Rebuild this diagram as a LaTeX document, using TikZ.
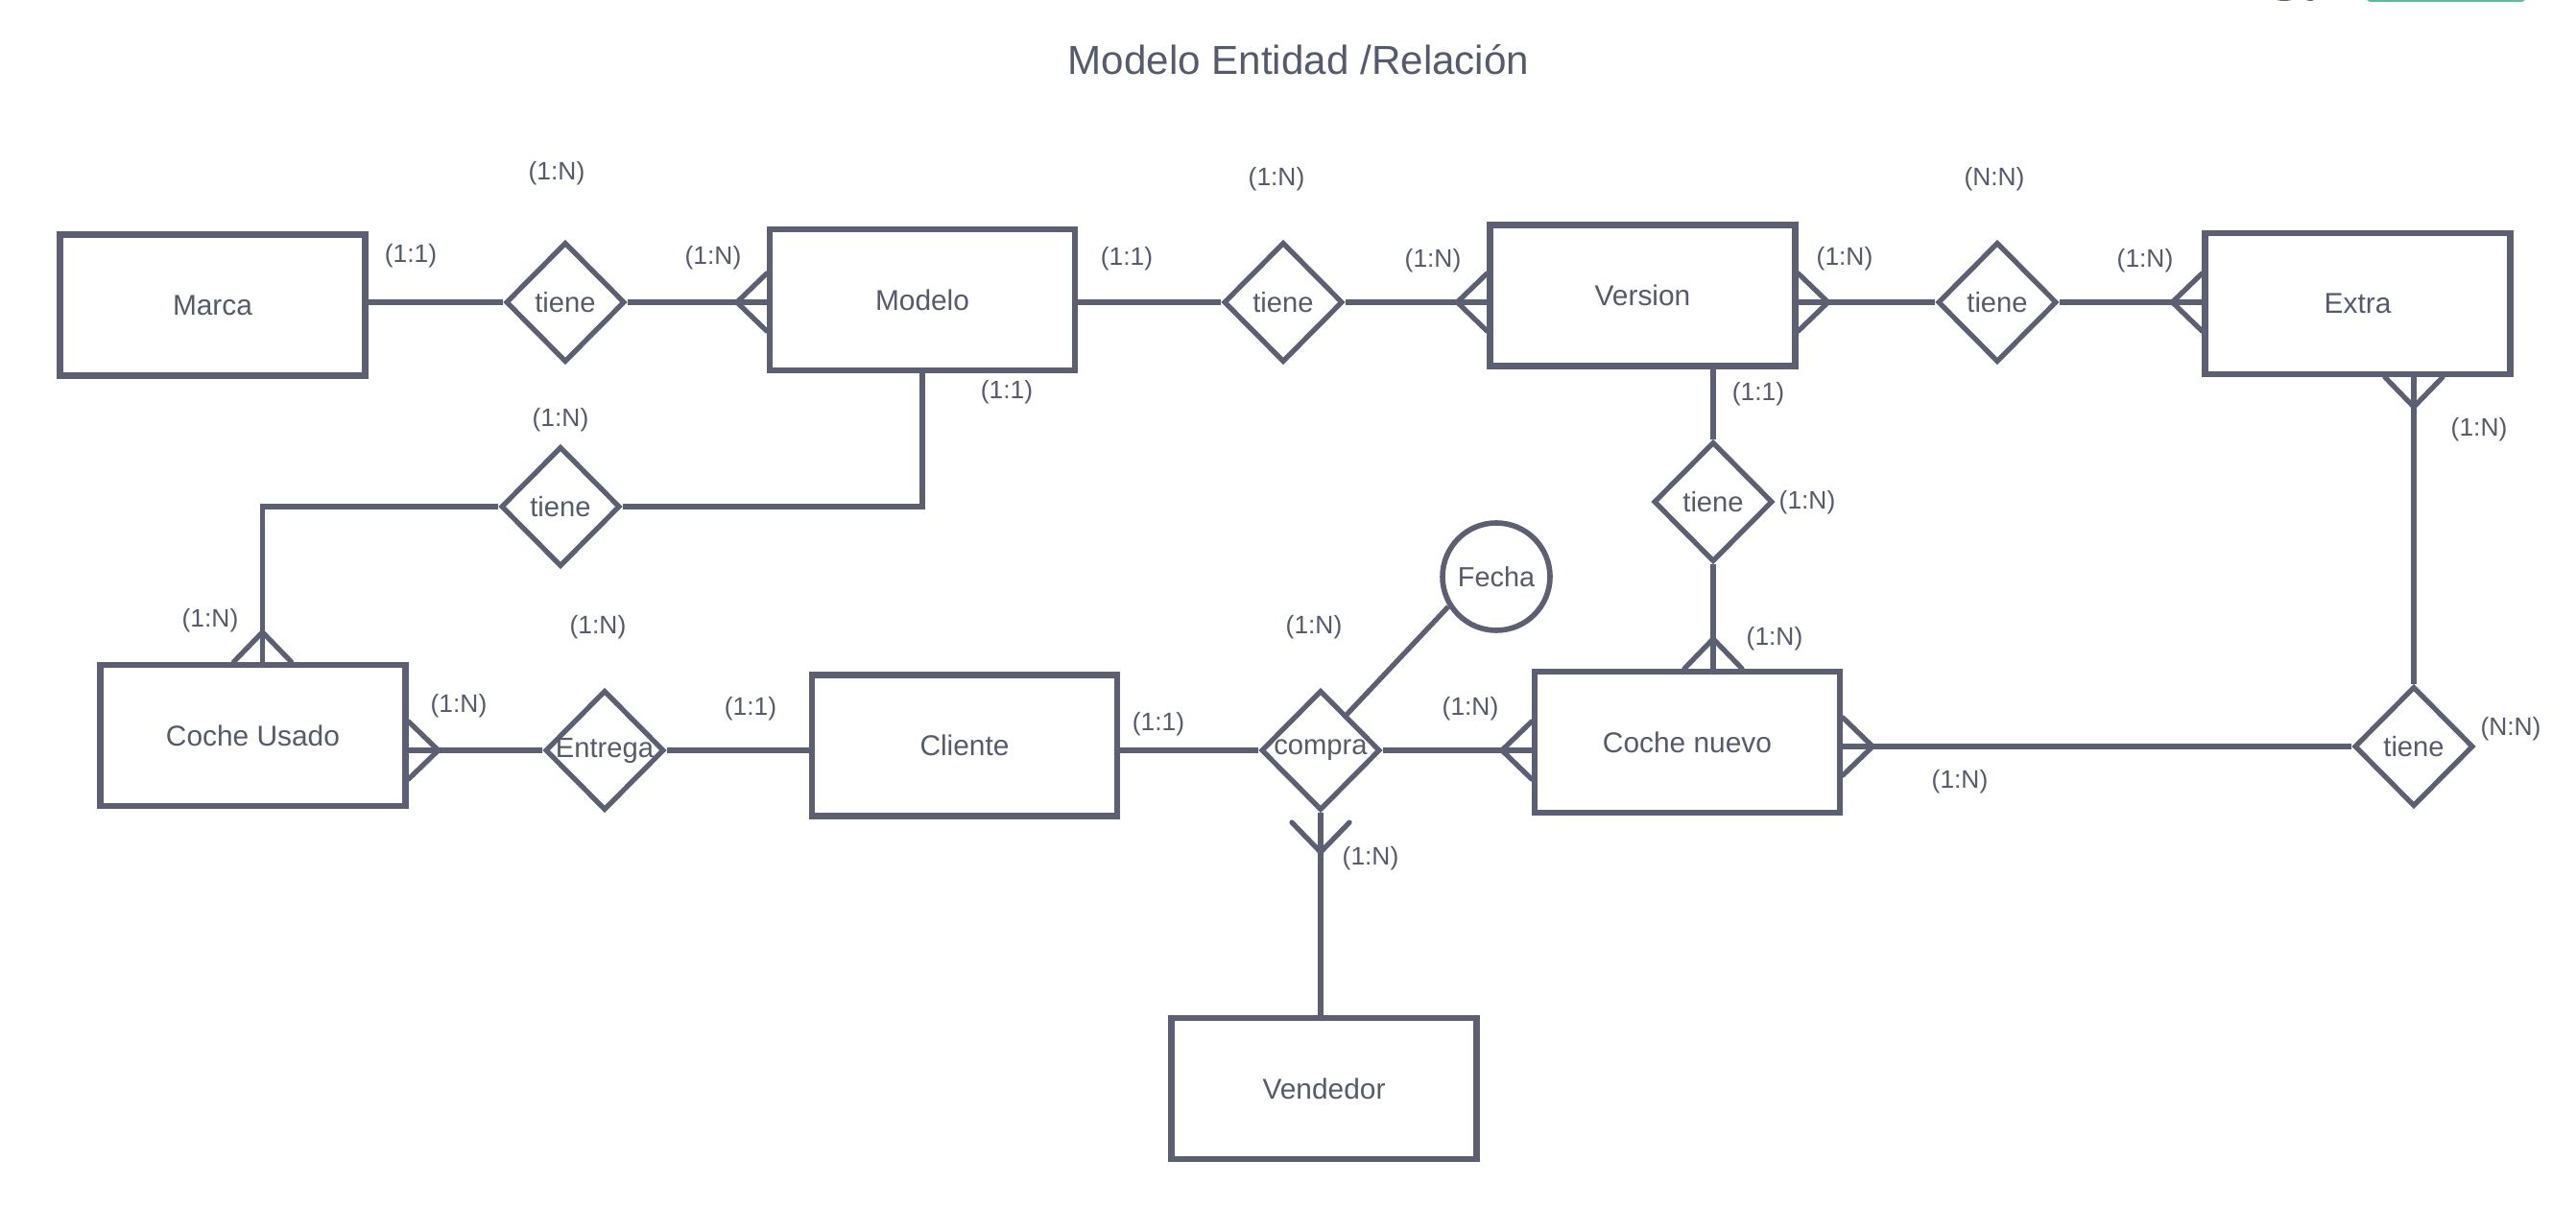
\documentclass[tikz,border=0pt]{standalone}
\usepackage{fontspec}
\setmainfont{Liberation Sans}
\usetikzlibrary{positioning,shapes.geometric,calc}

\definecolor{ink}{HTML}{5B5F71}
\definecolor{inktext}{HTML}{555A6C}
\definecolor{tabgreen}{HTML}{66BA9C}

\tikzset{
  entity/.style={draw=ink, line width=1.8pt, rectangle, minimum width=3.18cm,
    minimum height=1.47cm, inner sep=0pt, text=inktext,
    font=\fontsize{8.5}{10}\selectfont},
  rel/.style={draw=ink, line width=1.5pt, diamond, aspect=1, minimum width=1.24cm,
    minimum height=1.25cm, inner sep=0pt,
    label={[text=inktext, font=\fontsize{8.3}{10}\selectfont]center:#1}},
  attr/.style={draw=ink, line width=1.6pt, circle, minimum size=1.12cm,
    inner sep=0pt, text=inktext, font=\fontsize{8.2}{10}\selectfont},
  card/.style={text=inktext, font=\fontsize{7.5}{9}\selectfont, inner sep=0pt},
  conn/.style={draw=ink, line width=1.5pt},
  crowfoot/.pic={\draw[ink, line width=1.5pt, line cap=round]
    (0,0.3) -- (-0.31,0) -- (0,-0.3);}
}

\begin{document}
\begin{tikzpicture}
  \useasboundingbox (0,0) rectangle (26.84,12.58);
  % window bits cut off at the top
  \fill[tabgreen, rounded corners=1pt] (24.66,12.56) rectangle (26.31,12.70);
  \fill[ink] (23.80,12.61) ellipse (0.12 and 0.04);
  \fill[ink] (24.07,12.61) ellipse (0.06 and 0.04);

  \node[text=inktext, font=\fontsize{12}{14}\selectfont] (titulo) at (13.53,11.96)
    {Modelo Entidad /Relación};

  % entidades
  \node[entity] (Marca)      at (2.215,9.40)  {Marca};
  \node[entity] (Modelo)     at (9.61,9.455)  {Modelo};
  \node[entity] (Version)    at (17.115,9.50) {Version};
  \node[entity] (Extra)      at (24.565,9.415){Extra};
  \node[entity] (CocheUsado) at (2.635,4.915) {Coche Usado};
  \node[entity] (Cliente)    at (10.05,4.81)  {Cliente};
  \node[entity] (CocheNuevo) at (17.58,4.845) {Coche nuevo};
  \node[entity] (Vendedor)   at (13.795,1.235){Vendedor};

  % relaciones
  \node[rel=tiene]   (tieneMarca)      at (5.89,9.43)  {};
  \node[rel=tiene]   (tieneVersion)    at (13.37,9.43) {};
  \node[rel=tiene]   (tieneExtra)      at (20.81,9.43) {};
  \node[rel=tiene]   (tieneUsado)      at (5.84,7.30)  {};
  \node[rel=tiene]   (tieneNuevo)      at (17.85,7.35) {};
  \node[rel=Entrega] (Entrega)         at (6.30,4.76)  {};
  \node[rel=compra]  (compra)          at (13.76,4.76) {};
  \node[rel=tiene]   (tieneExtraNuevo) at (25.15,4.80) {};
  \node[attr]        (Fecha)           at (15.59,6.57) {Fecha};

  \coordinate (compraIn) at ($(compra.center)+(0.25,0.35)$);
  \coordinate (cuTop) at ([xshift=1mm]CocheUsado.north);

  \path[conn]
    (tieneMarca.west)      edge (tieneMarca.west -| Marca.east)
    (tieneMarca.east)      edge (tieneMarca.east -| Modelo.west)
    (tieneVersion.west)    edge (tieneVersion.west -| Modelo.east)
    (tieneVersion.east)    edge (tieneVersion.east -| Version.west)
    (tieneExtra.west)      edge (tieneExtra.west -| Version.east)
    (tieneExtra.east)      edge (tieneExtra.east -| Extra.west)
    (tieneNuevo.north)     edge (tieneNuevo.north |- Version.south)
    (tieneNuevo.south)     edge (tieneNuevo.south |- CocheNuevo.north)
    (tieneExtraNuevo.north) edge (tieneExtraNuevo.north |- Extra.south)
    (tieneExtraNuevo.west) edge (tieneExtraNuevo.west -| CocheNuevo.east)
    (Entrega.west)         edge (Entrega.west -| CocheUsado.east)
    (Entrega.east)         edge (Entrega.east -| Cliente.west)
    (compra.west)          edge (compra.west -| Cliente.east)
    (compra.east)          edge (compra.east -| CocheNuevo.west)
    (compra.south)         edge (compra.south |- Vendedor.north)
    (Fecha.212)            edge (compraIn);
  \draw[conn] (Modelo.south) |- (tieneUsado.east);
  \draw[conn] (tieneUsado.west) -| (cuTop);

  % patas de gallo
  \pic at (tieneMarca.east -| Modelo.west) {crowfoot};
  \pic at (tieneVersion.east -| Version.west) {crowfoot};
  \pic[rotate=180] at (tieneExtra.west -| Version.east) {crowfoot};
  \pic at (tieneExtra.east -| Extra.west) {crowfoot};
  \pic[rotate=-90] at (cuTop) {crowfoot};
  \pic[rotate=180] at (Entrega.west -| CocheUsado.east) {crowfoot};
  \pic at (compra.east -| CocheNuevo.west) {crowfoot};
  \pic[rotate=180] at (tieneExtraNuevo.west -| CocheNuevo.east) {crowfoot};
  \pic[rotate=-90] at (tieneNuevo.south |- CocheNuevo.north) {crowfoot};
  \pic[rotate=90] at (tieneExtraNuevo.north |- Extra.south) {crowfoot};
  \pic[rotate=90] at ([yshift=-1mm]compra.south) {crowfoot};

  % cardinalidades
  \node[card] (cMarcaTop)   at (5.80,10.77)  {(1:N)};
  \node[card] (cMarca)      at (4.28,9.91)   {(1:1)};
  \node[card] (cModeloIzq)  at (7.43,9.89)   {(1:N)};
  \node[card] (cVersionTop) at (13.30,10.71) {(1:N)};
  \node[card] (cModeloDer)  at (11.74,9.88)  {(1:1)};
  \node[card] (cVersionIzq) at (14.93,9.86)  {(1:N)};
  \node[card] (cExtraTop)   at (20.78,10.71) {(N:N)};
  \node[card] (cVersionDer) at (19.22,9.88)  {(1:N)};
  \node[card] (cExtraIzq)   at (22.35,9.86)  {(1:N)};
  \node[card] (cModeloAbj)  at (10.49,8.49)  {(1:1)};
  \node[card] (cUsadoTop)   at (5.84,8.20)   {(1:N)};
  \node[card] (cVersionAbj) at (18.32,8.47)  {(1:1)};
  \node[card] (cExtraAbj)   at (25.83,8.10)  {(1:N)};
  \node[card] (cNuevoTop)   at (18.83,7.34)  {(1:N)};
  \node[card] (cUsadoArr)   at (2.19,6.11)   {(1:N)};
  \node[card] (cEntregaTop) at (6.23,6.04)   {(1:N)};
  \node[card] (cCompraTop)  at (13.69,6.04)  {(1:N)};
  \node[card] (cNuevoArr)   at (18.49,5.92)  {(1:N)};
  \node[card] (cUsadoDer)   at (4.78,5.22)   {(1:N)};
  \node[card] (cClienteIzq) at (7.82,5.19)   {(1:1)};
  \node[card] (cClienteDer) at (12.07,5.03)  {(1:1)};
  \node[card] (cNuevoIzq)   at (15.32,5.19)  {(1:N)};
  \node[card] (cNuevoDer)   at (20.42,4.43)  {(1:N)};
  \node[card] (cTieneDer)   at (26.16,4.98)  {(N:N)};
  \node[card] (cVendedor)   at (14.28,3.63)  {(1:N)};
\end{tikzpicture}
\end{document}
